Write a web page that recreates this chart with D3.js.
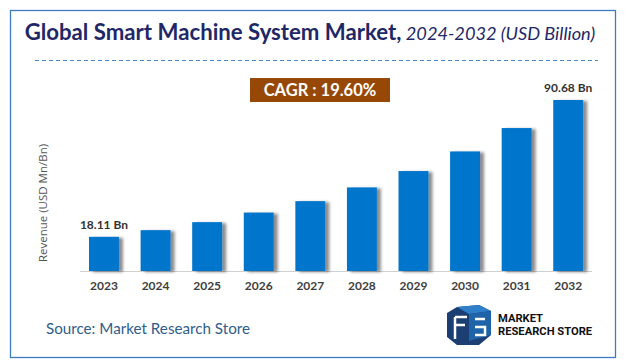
<!DOCTYPE html>
<html><head><meta charset="utf-8">
<script src="https://cdn.jsdelivr.net/npm/d3@7"></script>
<style>body{margin:0;background:#fff}svg{display:block}</style>
</head><body>
<svg id="c" width="628" height="364"></svg>
<script>
const years = ["2023","2024","2025","2026","2027","2028","2029","2030","2031","2032"];
const revenue = [18.11, 21.66, 25.9, 30.98, 37.05, 44.32, 53.0, 63.4, 75.8, 90.68];
const labelled = {"2023":"18.11 Bn","2032":"90.68 Bn"};
const titleMain = "Global Smart Machine System Market,";
const titleSub = " 2024-2032 (USD Billion)";
const cagr = "CAGR : 19.60%";

const svg = d3.select("#c");
const defs = svg.append("defs");
const f = defs.append("filter").attr("id","sh").attr("x","-20%").attr("y","-20%").attr("width","160%").attr("height","140%");
f.append("feDropShadow").attr("dx",4).attr("dy",1).attr("stdDeviation",1.6).attr("flood-color","#000").attr("flood-opacity",0.45);

svg.append("rect").attr("x",10.5).attr("y",10.5).attr("width",605).attr("height",347)
  .attr("fill","#fff").attr("stroke","#3d7cc0").attr("stroke-width",1.3);

const t = svg.append("text").attr("x",310).attr("y",40).attr("text-anchor","middle")
  .attr("font-family","Lato, 'Open Sans', sans-serif").attr("fill","#1f2767");
t.append("tspan").attr("font-size",22.2).attr("font-weight","bold").text(titleMain);
t.append("tspan").attr("font-size",18.2).attr("font-style","italic").text(titleSub);

svg.append("line").attr("x1",35).attr("x2",598).attr("y1",60.5).attr("y2",60.5)
  .attr("stroke","#4a86c8").attr("stroke-width",1).attr("stroke-dasharray","4,3");

svg.append("rect").attr("x",250).attr("y",78).attr("width",140).attr("height",24).attr("fill","#974806");
svg.append("text").attr("x",320).attr("y",96).attr("text-anchor","middle")
  .attr("font-family","Lato, 'Open Sans', sans-serif").attr("font-weight","bold").attr("font-size",16.5)
  .attr("fill","#fff").text(cagr);

const x = d3.scaleBand().domain(years).range([78.2, 594]).paddingInner(0.42).paddingOuter(0.21);
const y = d3.scaleLinear().domain([0, 90.68]).range([271, 100]);

svg.append("line").attr("x1",80).attr("x2",592).attr("y1",271.5).attr("y2",271.5).attr("stroke","#d0d0d0");

svg.append("g").selectAll("rect").data(years).join("rect")
  .attr("x",d=>x(d)).attr("width",x.bandwidth())
  .attr("y",(d,i)=>y(revenue[i])).attr("height",(d,i)=>y(0)-y(revenue[i]))
  .attr("fill","#0474cc").attr("filter","url(#sh)");

const ax = svg.append("g").attr("transform","translate(0,271)")
  .call(d3.axisBottom(x).tickSize(0).tickPadding(10));
ax.select(".domain").remove();
ax.selectAll("text").attr("font-family","Lato, 'Open Sans', sans-serif").attr("font-size",12)
  .attr("fill","#404040").attr("font-weight","bold");

svg.append("g").selectAll("text").data(years.filter(d=>labelled[d])).join("text")
  .attr("x",d=>x(d)+x.bandwidth()/2).attr("y",d=>y(revenue[years.indexOf(d)])-8)
  .attr("text-anchor","middle").attr("font-family","Lato, 'Open Sans', sans-serif")
  .attr("font-weight","bold").attr("font-size",12).attr("fill","#333").text(d=>labelled[d]);

svg.append("text").attr("transform","translate(47,203) rotate(-90)").attr("text-anchor","middle")
  .attr("font-family","'Open Sans', sans-serif").attr("font-size",11.5).attr("fill","#555")
  .text("Revenue (USD Mn/Bn)");

svg.append("text").attr("x",46).attr("y",334).attr("font-family","Lato, 'Open Sans', sans-serif")
  .attr("font-size",15.2).attr("fill","#2f5d8c").text("Source: Market Research Store");

// logo
const lg = svg.append("g").attr("transform","translate(445,305)");
lg.append("path").attr("d","M12,2 L34,0 L46,6 L46,30 L34,40 L12,40 L2,32 L2,8 Z").attr("fill","#1b3f73");
lg.append("path").attr("d","M12,2 L34,0 L46,6 L24,9 Z").attr("fill","#2f7ec9");
lg.append("path").attr("d","M24,9 L46,6 L46,30 L24,36 Z").attr("fill","#1f63a8");
lg.append("path").attr("d","M10,12 L22,12 M10,20 L20,20 M10,12 L10,34 M30,14 L40,14 M30,22 L40,22 L40,30 L30,30")
  .attr("stroke","#fff").attr("stroke-width",2.5).attr("fill","none");
const lt = svg.append("g").attr("font-family","Roboto, 'Liberation Sans', sans-serif").attr("font-weight","bold")
  .attr("font-size",11.2).attr("fill","#111");
lt.append("text").attr("x",498).attr("y",322).text("MARKET");
lt.append("text").attr("x",498).attr("y",335).text("RESEARCH STORE");
</script>
</body></html>
